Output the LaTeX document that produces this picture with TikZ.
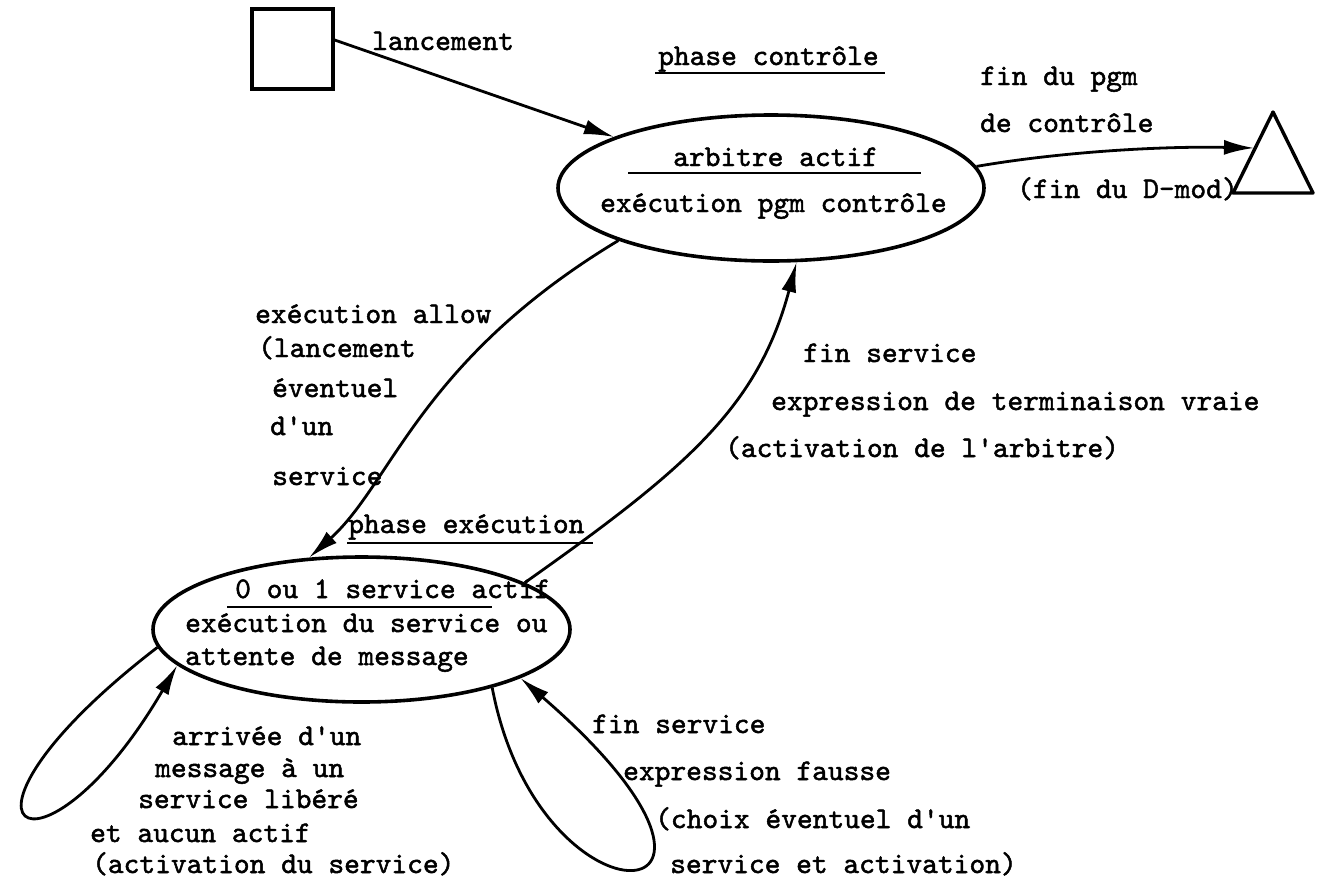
\documentclass[tikz,border=0pt]{standalone}
\usepackage{fontspec}
\newfontfamily\twfont{lmmono10-regular.otf}[FakeBold=1.6]
\usetikzlibrary{arrows.meta,shapes.geometric}
\begin{document}
\begin{tikzpicture}[x=1pt,y=-1pt,
  lbl/.style={font=\fontsize{30}{36}\selectfont\twfont, inner sep=0pt, anchor=base west},
  state/.style={draw, ellipse, line width=3.6pt, inner sep=0pt},
  conn/.style={line width=2.8pt, -{Latex[length=30pt,width=15pt]}},
  uline/.style={line width=2.6pt}]
\useasboundingbox (0,0) rectangle (1324,884);
% shapes
\node[draw, line width=3.4pt, minimum width=81pt, minimum height=80pt, inner sep=0pt] (S) at (292.5,49) {};
\node[state, minimum width=426pt, minimum height=146pt] (A) at (771,188) {};
\node[state, minimum width=417pt, minimum height=145pt] (B) at (361.5,629.5) {};
\draw[line width=3.4pt, line join=round] (1273,112) -- (1233,193) -- (1313,193) -- cycle;
\coordinate (T) at (1254,148);
% connectors
\draw[conn] (S.12.5) -- (A.162.8);
\draw[conn] (A.6.8) .. controls (1060,152) and (1160,146) .. (T);
\draw[conn] (A.199) .. controls (420,360) and (392,483) .. (B.126.4);
\draw[conn] (B.16) .. controls (687,468) and (758,407) .. (A.289.6);
\draw[conn] (B.185) .. controls (-80,830) and (40,900) .. (B.191);
\draw[conn] (B.336) .. controls (540,940) and (800,920) .. (B.343);
% texts
\node[lbl] (t1) at (372,50) {lancement};
\node[lbl] (t2) at (658,65) {phase contrôle};
\draw[uline] (655,73) -- (885,73);
\node[lbl] (t3) at (673,166) {arbitre actif};
\draw[uline] (628,173) -- (921,173);
\node[lbl] (t4) at (600,212) {exécution pgm contrôle};
\node[lbl] (t5) at (980,85) {fin du pgm};
\node[lbl] (t6) at (980,132) {de contrôle};
\node[lbl] (t7) at (1017,198) {(fin du D-mod)};
\node[lbl] (t8) at (255,323) {exécution allow};
\node[lbl] (t9) at (258,357) {(lancement};
\node[lbl] (t10) at (272,397) {éventuel};
\node[lbl] (t11) at (270,435) {d\textquotesingle un};
\node[lbl] (t12) at (272,485) {service};
\node[lbl] (t13) at (348,533) {phase exécution};
\draw[uline] (347,543) -- (593,543);
\node[lbl] (t14) at (235,598) {0 ou 1 service actif};
\draw[uline] (227,607) -- (492,607);
\node[lbl] (t15) at (185,632) {exécution du service ou};
\node[lbl] (t16) at (185,665) {attente de message};
\node[lbl] (t17) at (803,362) {fin service};
\node[lbl] (t18) at (771,410) {expression de terminaison vraie};
\node[lbl] (t19) at (725,457) {(activation de l\textquotesingle arbitre)};
\node[lbl] (t20) at (172,745) {arrivée d\textquotesingle un};
\node[lbl] (t21) at (155,777) {message à un};
\node[lbl] (t22) at (138,808) {service libéré};
\node[lbl] (t23) at (90,842) {et aucun actif};
\node[lbl] (t24) at (92,873) {(activation du service)};
\node[lbl] (t25) at (592,733) {fin service};
\node[lbl] (t26) at (623,780) {expression fausse};
\node[lbl] (t27) at (655,828) {(choix éventuel d\textquotesingle un};
\node[lbl] (t28) at (670,873) {service et activation)};
\end{tikzpicture}
\end{document}
